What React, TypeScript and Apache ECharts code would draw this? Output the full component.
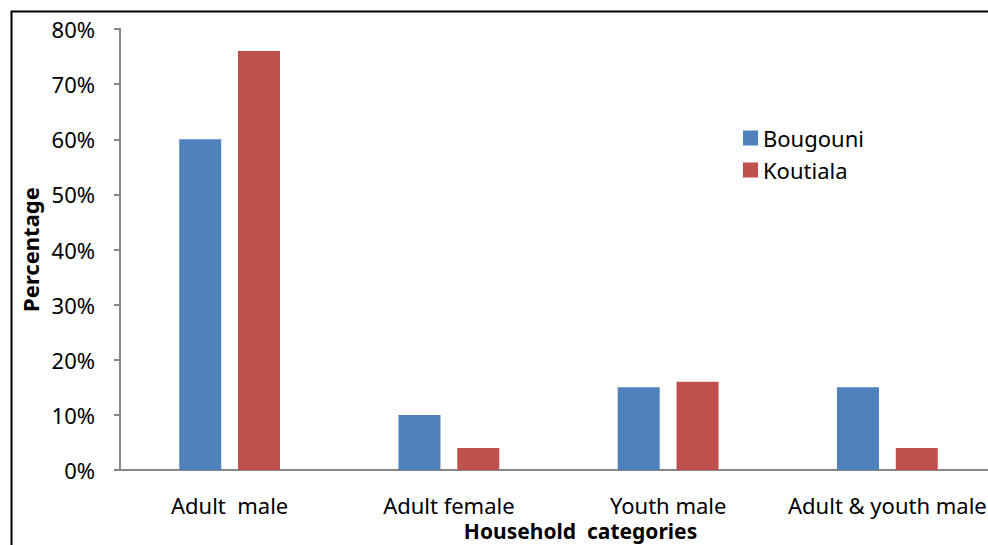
import React, { useEffect, useRef } from "react";
import * as echarts from "echarts";

const categories = ["Adult  male", "Adult female", "Youth male", "Adult & youth male"];
const bougouni = [60, 10, 15, 15];
const koutiala = [76, 4, 16, 4];
const yTicks = { min: 0, max: 80, interval: 10 };

const FONT = "'Noto Sans', 'Open Sans', sans-serif";

export default function App() {
  const ref = useRef<HTMLDivElement>(null);

  useEffect(() => {
    document.body.style.margin = "0";
    const chart = echarts.init(ref.current!, null, { renderer: "svg" });
    chart.setOption({
      animation: false,
      backgroundColor: "#ffffff",
      textStyle: { fontFamily: FONT, color: "#000" },
      grid: {
        left: 120,
        top: 29,
        width: 877,
        height: 441,
        containLabel: false,
        outerBoundsMode: "none",
      },
      legend: {
        orient: "vertical",
        left: 738,
        top: 122,
        itemWidth: 15,
        itemHeight: 15,
        itemGap: 10,
        icon: "rect",
        textStyle: { fontFamily: FONT, fontSize: 22, color: "#000", lineHeight: 22 },
        data: ["Bougouni", "Koutiala"],
      },
      xAxis: {
        type: "category",
        data: categories,
        name: "Household  categories",
        nameLocation: "middle",
        nameGap: 48,
        nameTextStyle: {
          fontFamily: FONT,
          fontSize: 21,
          fontWeight: "bold",
          color: "#000",
          lineHeight: 21,
          padding: [0, 0, 0, 44],
        },
        axisLine: { lineStyle: { color: "#868686", width: 2 } },
        axisTick: { show: false },
        axisLabel: { fontFamily: FONT, fontSize: 22, color: "#000", margin: 24, interval: 0 },
        splitLine: { show: false },
      },
      yAxis: {
        type: "value",
        min: yTicks.min,
        max: yTicks.max,
        interval: yTicks.interval,
        name: "Percentage",
        nameLocation: "middle",
        nameGap: 71,
        nameRotate: 90,
        nameTextStyle: { fontFamily: FONT, fontSize: 22, fontWeight: "bold", color: "#000" },
        axisLine: { show: true, lineStyle: { color: "#868686", width: 2 } },
        axisTick: { show: true, length: 6, lineStyle: { color: "#868686", width: 2 } },
        axisLabel: {
          fontFamily: FONT,
          fontSize: 22,
          color: "#000",
          margin: 25,
          formatter: (v: number) => `${v}%`,
        },
        splitLine: { show: false },
      },
      series: [
        {
          name: "Bougouni",
          type: "bar",
          data: bougouni,
          barWidth: 42,
          barGap: "40%",
          itemStyle: { color: "#4F81BD" },
        },
        {
          name: "Koutiala",
          type: "bar",
          data: koutiala,
          barWidth: 42,
          barGap: "40%",
          itemStyle: { color: "#C0504D" },
        },
      ],
      graphic: [
        {
          type: "rect",
          left: 9,
          top: 9,
          shape: { width: 1100, height: 700 },
          style: { fill: "none", stroke: "#000", lineWidth: 2 },
          silent: true,
          z: 100,
        },
      ],
    });
    return () => chart.dispose();
  }, []);

  return <div ref={ref} style={{ width: 988, height: 545 }} />;
}
